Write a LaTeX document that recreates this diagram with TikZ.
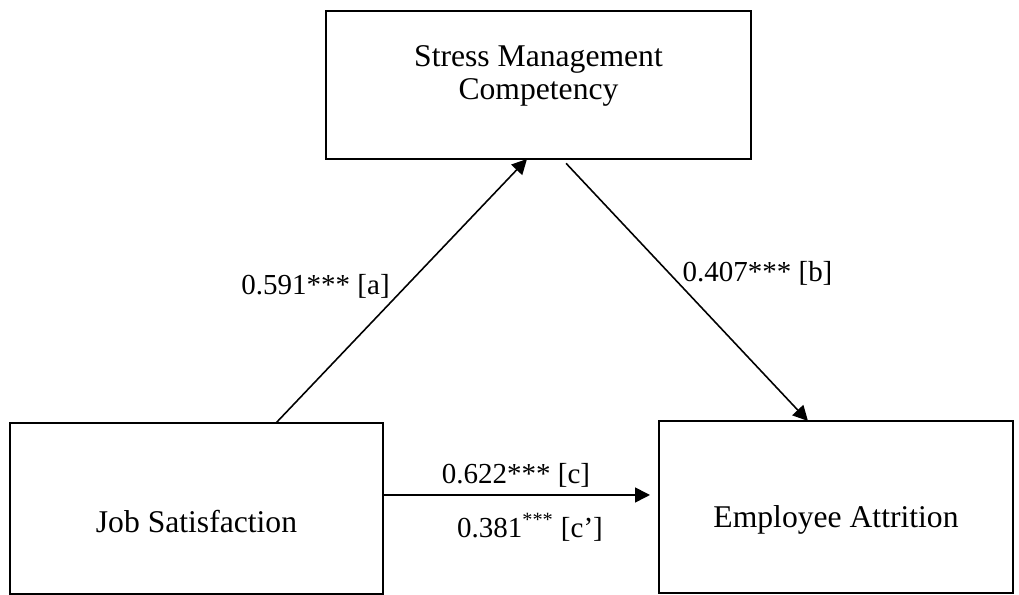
\documentclass[tikz,border=0pt]{standalone}
\usepackage{fontspec}
\setmainfont{Liberation Serif}
\usetikzlibrary{arrows.meta}
\begin{document}
\begin{tikzpicture}[
    box/.style={draw,line width=1.1pt,inner sep=0pt,outer sep=0pt,anchor=north west,font=\fontsize{18}{19}\selectfont},
    link/.style={line width=0.9pt,-{Triangle[length=0.3cm,width=0.3cm]}},
    lbl/.style={inner sep=0pt,font=\fontsize{16.5}{18}\selectfont}
  ]
            \useasboundingbox (0,0) rectangle (20.38,11.9);
            \node[box,minimum width=8.5cm,text height=1.78cm,text depth=1.18cm,align=center] (smc) at (6.52,11.68) {Stress Management\\Competency};
            \node[box,minimum width=7.46cm,text height=2.2cm,text depth=1.22cm] (js) at (0.2,3.44) {Job Satisfaction};
            \node[box,minimum width=7.08cm,text height=2.14cm,text depth=1.3cm] (ea) at (13.18,3.48) {Employee Attrition};
            \draw[link] (5.52,0 |- js.north) -- (10.54,0 |- smc.south);
            \draw[link,shorten <=0.12cm] (11.24,0 |- smc.south) -- (16.16,0 |- ea.north);
            \draw[link,shorten >=0.18cm] (js.east |- 0,2) -- (ea.west |- 0,2);
            \node[lbl,anchor=east] (la) at (7.8,6.18) {0.591*** [a]};
            \node[lbl] (lb) at (15.15,6.44) {0.407*** [b]};
            \node[lbl] (lc) at (10.32,2.4) {0.622*** [c]};
            \node[lbl] (lcp) at (10.6,1.36) {0.381\textsuperscript{***} [c’]};
\end{tikzpicture}
\end{document}
